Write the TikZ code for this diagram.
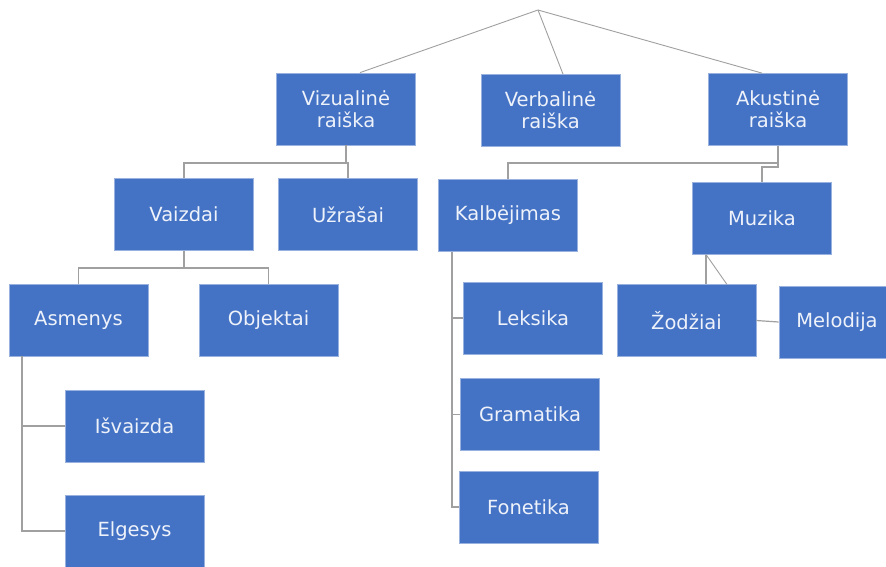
\documentclass[tikz,border=0pt]{standalone}
\usepackage{fontspec}
\setmainfont{DejaVu Sans}
\definecolor{boxblue}{HTML}{4472C4}
\definecolor{linegray}{HTML}{A0A0A0}
\definecolor{boxtext}{HTML}{EEF2FA}
\begin{document}
\begin{tikzpicture}[x=1pt,y=-1pt,
  box/.style={fill=boxblue,draw=boxblue!55!white,line width=0.8pt,text=boxtext,
    minimum width=139pt,minimum height=72pt,inner sep=0pt,align=center,
    font=\fontsize{19.5}{22}\selectfont},
  conn/.style={draw=linegray,line width=1.2pt},
  thin conn/.style={draw=linegray,line width=0.9pt}]
\useasboundingbox (0,0) rectangle (886,566);
\fill[white] (0,0) rectangle (886,566);
% nodes
\node[box] (viz)  at (346,109)   {Vizualinė\\raiška};
\node[box] (verb) at (550.5,110.5) {Verbalinė\\raiška};
\node[box] (aku)  at (778,109.5) {Akustinė\\raiška};
\node[box] (vaiz) at (184,214.5) {Vaizdai};
\node[box] (uzr)  at (348,214.5) {Užrašai};
\node[box] (asm)  at (78.5,320)  {Asmenys};
\node[box] (obj)  at (268.5,320) {Objektai};
\node[box] (isv)  at (134.5,426) {Išvaizda};
\node[box] (elg)  at (134.5,531) {Elgesys};
\node[box] (kal)  at (508,215.5) {Kalbėjimas};
\node[box] (muz)  at (762,218.5) {Muzika};
\node[box] (lek)  at (533,318)   {Leksika};
\node[box] (gram) at (530,414.5) {Gramatika};
\node[box] (fon)  at (528.5,507) {Fonetika};
\node[box] (zod)  at (686.5,320.5) {Žodžiai};
\node[box,minimum width=116pt] (mel) at (837,322) {Melodija};
% coordinates
\coordinate (apex) at (538,10);
\coordinate (vj) at (346,163);
\coordinate (vaj) at (184,268);
\coordinate (asmb) at (22,356);
\coordinate (aj) at (778,163);
\coordinate (aj2) at (778,167);
\coordinate (kb) at (452,251.5);
\coordinate (mz) at (706,254.5);
\coordinate (mzd) at (727,284.5);
% connectors
\draw[thin conn] (apex) -- ([xshift=14pt]viz.north);
\draw[thin conn] (apex) -- ([xshift=12.5pt]verb.north);
\draw[thin conn] (apex) -- ([xshift=-16pt]aku.north);
\draw[conn] (viz.south) -- (vj);
\draw[conn] (vaiz.north) |- (vj) -| (uzr.north);
\draw[conn] (vaiz.south) -- (vaj);
\draw[conn] (asm.north) |- (vaj) -| (obj.north);
\draw[conn] (asmb) |- (elg.west);
\draw[conn] (asmb |- isv.west) -- (isv.west);
\draw[conn] (aku.south) -- (aj2) -| (muz.north);
\draw[conn] (aj) -| (kal.north);
\draw[conn] (kb) |- (fon.west);
\draw[conn] (kb |- lek.west) -- (lek.west);
\draw[conn] (kb |- gram.west) -- (gram.west);
\draw[conn] (mz) -- (mz |- zod.north);
\draw[thin conn] (mz) -- (mzd);
\draw[conn] (zod.east) -- (mel.west);
\end{tikzpicture}
\end{document}
